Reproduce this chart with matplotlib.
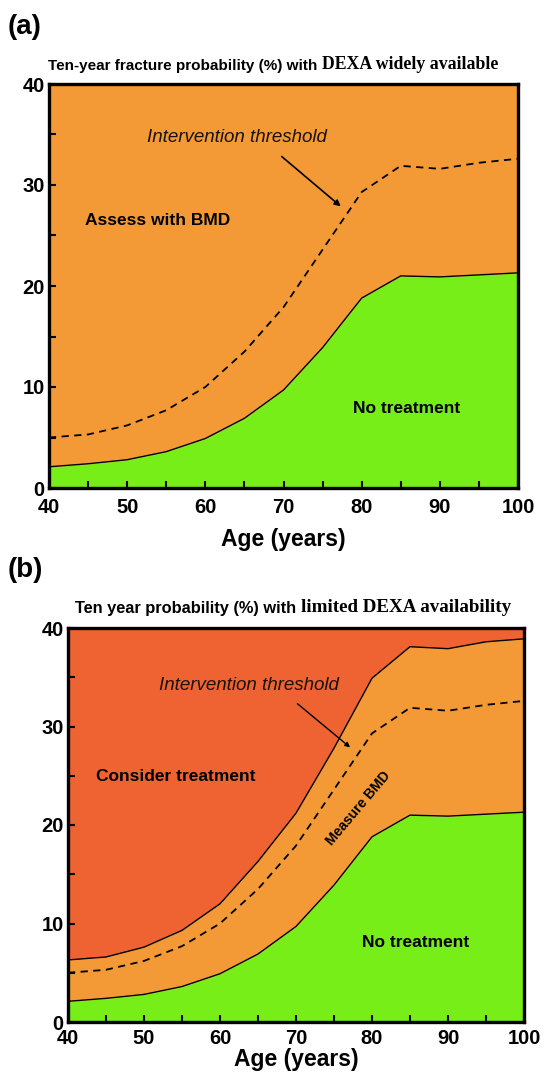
import numpy as np
import matplotlib
matplotlib.use('Agg')
import matplotlib.pyplot as plt
from matplotlib.ticker import MultipleLocator

# ages (x) and threshold values (%)
age = [40, 45, 50, 55, 60, 65, 70, 75, 80, 85, 90, 95, 100]
no_treat = [2.1, 2.4, 2.8, 3.6, 4.9, 6.9, 9.7, 13.9, 18.8, 21.0, 20.9, 21.1, 21.3]
intervention = [5.0, 5.3, 6.2, 7.7, 10.0, 13.5, 17.9, 23.6, 29.3, 31.9, 31.6, 32.2, 32.6]
upper_b = [6.3, 6.6, 7.6, 9.3, 12.0, 16.3, 21.2, 27.8, 34.9, 38.1, 37.9, 38.6, 38.9]

xticks = [40, 50, 60, 70, 80, 90, 100]
yticks = [0, 10, 20, 30, 40]

GREEN = '#77ee17'
ORANGE = '#f39a36'
RED = '#ee6331'
SANS = 'Liberation Sans'
SERIF = 'Liberation Serif'

W, H = 544, 1075
fig = plt.figure(figsize=(W / 100, H / 100), dpi=100)


def rect(l, r, t, b):
    return [l / W, 1 - b / H, (r - l) / W, (b - t) / H]


def style_axes(ax, xpad, labelpad):
    ax.set_xlim(40, 100)
    ax.set_ylim(0, 40)
    ax.set_xticks(xticks)
    ax.set_yticks(yticks)
    ax.xaxis.set_minor_locator(MultipleLocator(5))
    ax.yaxis.set_minor_locator(MultipleLocator(5))
    ax.tick_params(which='both', direction='in', length=5, width=1.5,
                   top=False, right=False)
    ax.tick_params(axis='x', pad=xpad)
    ax.tick_params(axis='y', pad=3)
    for lab in ax.get_xticklabels() + ax.get_yticklabels():
        lab.set_fontfamily(SANS)
        lab.set_fontweight('bold')
        lab.set_fontsize(14.5)
    for sp in ax.spines.values():
        sp.set_linewidth(2.4)
        sp.set_zorder(5)
    ax.set_xlabel('Age (years)', fontfamily=SANS, fontweight='bold',
                  fontsize=16.5, labelpad=labelpad)


def title2(x, y, s1, s2, f1, f2):
    t1 = fig.text(x / W, 1 - y / H, s1, fontfamily=SANS, fontweight='bold',
                  fontsize=f1, ha='left', va='baseline')
    fig.add_artist(plt.Annotation(s2, xy=(1, 0), xycoords=t1,
                                  fontfamily=SERIF, fontweight='bold',
                                  fontsize=f2, ha='left', va='bottom'))


# ---- panel (a)
ax1 = fig.add_axes(rect(49, 518, 84, 488))
ax1.fill_between(age, 0, no_treat, color=GREEN, lw=0)
ax1.fill_between(age, no_treat, 40, color=ORANGE, lw=0)
ax1.plot(age, no_treat, color='black', lw=1.0)
ax1.plot(age, intervention, color='black', lw=1.3, ls=(0, (4, 3)))
style_axes(ax1, 7, 8)
ax1.text(64.0, 34.7, 'Intervention threshold', fontfamily=SANS, style='italic',
         fontsize=13.5, ha='center', va='center', color='#1a1208')
ax1.annotate('', xy=(77.6, 27.7), xytext=(69.5, 33.0),
             arrowprops=dict(arrowstyle='-|>', lw=1.2, color='black',
                             mutation_scale=9))
ax1.text(53.9, 26.5, 'Assess with BMD', fontfamily=SANS, fontweight='bold',
         fontsize=12.5, ha='center', va='center')
ax1.text(85.8, 7.9, 'No treatment', fontfamily=SANS, fontweight='bold',
         fontsize=12.5, ha='center', va='center')

fig.text(8 / W, 1 - 27 / H, '(a)', fontfamily=SANS, fontweight='bold',
         fontsize=20, ha='left', va='center')
title2(48, 70, 'Ten-year fracture probability (%) with ', 'DEXA widely available',
       11, 12.8)

# ---- panel (b)
ax2 = fig.add_axes(rect(68, 524, 628, 1022))
ax2.fill_between(age, 0, no_treat, color=GREEN, lw=0)
ax2.fill_between(age, no_treat, upper_b, color=ORANGE, lw=0)
ax2.fill_between(age, upper_b, 40, color=RED, lw=0)
ax2.plot(age, no_treat, color='black', lw=1.0)
ax2.plot(age, upper_b, color='black', lw=1.0)
ax2.plot(age, intervention, color='black', lw=1.3, ls=(0, (4, 3)))
style_axes(ax2, 5, 0)
ax2.text(63.8, 34.2, 'Intervention threshold', fontfamily=SANS, style='italic',
         fontsize=13.5, ha='center', va='center', color='#1a1208')
ax2.annotate('', xy=(77.4, 27.7), xytext=(69.9, 32.5),
             arrowprops=dict(arrowstyle='-|>', lw=1.0, color='black',
                             mutation_scale=7))
ax2.text(54.2, 24.9, 'Consider treatment', fontfamily=SANS, fontweight='bold',
         fontsize=12.5, ha='center', va='center')
ax2.text(78.2, 21.7, 'Measure BMD', fontfamily=SANS, fontweight='bold',
         fontsize=10, ha='center', va='center', rotation=50,
         rotation_mode='anchor')
ax2.text(85.7, 8.1, 'No treatment', fontfamily=SANS, fontweight='bold',
         fontsize=12.5, ha='center', va='center')

fig.text(8 / W, 1 - 570 / H, '(b)', fontfamily=SANS, fontweight='bold',
         fontsize=20, ha='left', va='center')
title2(75, 613, 'Ten year probability (%) with ', 'limited DEXA availability',
       11.8, 13.7)

fig.savefig('out.png', dpi=100)
